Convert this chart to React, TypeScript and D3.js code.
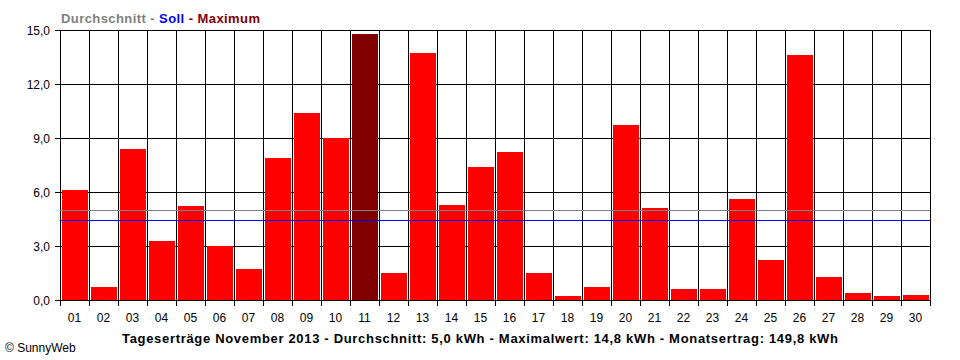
import { scaleBand, scaleLinear, range } from "d3";

const days = range(1, 31).map(d => String(d).padStart(2, "0"));
const yields = [
  6.1, 0.7, 8.4, 3.3, 5.2, 3.0, 1.7, 7.9, 10.4, 9.0,
  14.8, 1.5, 13.7, 5.3, 7.4, 8.2, 1.5, 0.2, 0.7, 9.7,
  5.1, 0.6, 0.6, 5.6, 2.2, 13.6, 1.3, 0.4, 0.2, 0.3,
];
const yTicks = [0, 3, 6, 9, 12, 15];
const average = 5.0;
const target = 4.45;
const maxValue = 14.8;
const footer = "Tageserträge November 2013 - Durchschnitt: 5,0 kWh - Maximalwert: 14,8 kWh - Monatsertrag: 149,8 kWh";

export default function App() {
  const left = 60, right = 930, top = 30, bottom = 300;
  const x = scaleBand<string>().domain(days).range([left, right]).padding(0);
  const y = scaleLinear().domain([0, 15]).range([bottom, top]);
  const font = "'Liberation Sans', Arial, sans-serif";
  const bw = x.bandwidth();

  return (
    <svg width={960} height={360} style={{ position: "absolute", left: 0, top: 0, background: "#fff" }}
      fontFamily={font}>
      <text x={61} y={23} fontSize={13} fontWeight="bold" textLength={199} lengthAdjust="spacing">
        <tspan fill="#808080">Durchschnitt - </tspan>
        <tspan fill="#0000ff">Soll</tspan>
        <tspan fill="#800000"> - Maximum</tspan>
      </text>

      {/* horizontal grid + y ticks */}
      {yTicks.map(t => (
        <g key={t}>
          <line x1={left - 5} x2={right} y1={Math.round(y(t)) + 0.5} y2={Math.round(y(t)) + 0.5}
            stroke="#000" shapeRendering="crispEdges" />
          <text x={50} y={Math.round(y(t)) + 5} fontSize={12} textAnchor="end">
            {t.toFixed(1).replace(".", ",")}
          </text>
        </g>
      ))}

      {/* vertical grid + x ticks */}
      {[...days.map(d => x(d)!), right].map((v, i) => (
        <line key={i} x1={Math.round(v) + 0.5} x2={Math.round(v) + 0.5} y1={top} y2={bottom + 6}
          stroke="#000" shapeRendering="crispEdges" />
      ))}

      {/* bars */}
      {yields.map((v, i) => (
        <rect key={days[i]} x={x(days[i])! + 2} width={bw - 3}
          y={y(v)} height={bottom - y(v)}
          fill={v === maxValue ? "#800000" : "#ff0000"} shapeRendering="crispEdges" />
      ))}

      <line x1={left} x2={right} y1={Math.round(y(average)) + 0.5} y2={Math.round(y(average)) + 0.5}
        stroke="#808080" shapeRendering="crispEdges" />
      <line x1={left} x2={right} y1={Math.round(y(target)) + 0.5} y2={Math.round(y(target)) + 0.5}
        stroke="#0000ff" shapeRendering="crispEdges" />

      {days.map(d => (
        <text key={d} x={x(d)! + bw / 2} y={322} fontSize={12} textAnchor="middle">{d}</text>
      ))}

      <text x={122} y={343} fontSize={13} fontWeight="bold" textLength={716} lengthAdjust="spacing">{footer}</text>
      <text x={5} y={352} fontSize={12}>© SunnyWeb</text>
    </svg>
  );
}
